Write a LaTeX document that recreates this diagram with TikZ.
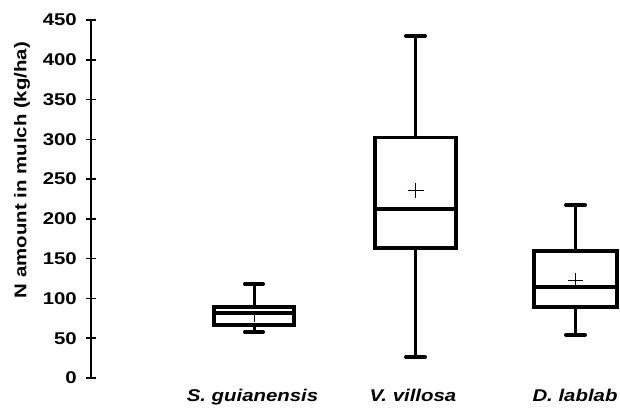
\documentclass[tikz,border=0pt]{standalone}
\usepackage{fontspec}
\setmainfont{Liberation Sans}[FakeStretch=1.2]
\begin{document}
\begin{tikzpicture}[x=1pt,y=-1pt,
  boxline/.style={line width=3.2pt},
  whisk/.style={line width=3pt},
  capline/.style={line width=4pt,line cap=round},
  meanmark/.style={line width=0.9pt},
  axisline/.style={line width=1.6pt},
  ticklab/.style={anchor=east,inner sep=0pt,font=\fontsize{17}{17}\selectfont\bfseries},
  catlab/.style={anchor=base,inner sep=0pt,font=\fontsize{17}{17}\selectfont\bfseries\itshape}]
\useasboundingbox[fill=white] (0,0) rectangle (620,407);
% axis
\coordinate (ax0) at (91,378);
\coordinate (ax1) at (91,20);
\draw[axisline] (ax0) -- (ax1);
\foreach \v in {0,50,...,450}{
  \pgfmathsetmacro{\yy}{378-0.7956*\v}
  \draw[axisline] (86,\yy) -- (96,\yy);
  \node[ticklab] (t\v) at (77,\yy) {\v};
}
\node[rotate=90,inner sep=0pt,font=\fontsize{17}{17}\selectfont\bfseries] (ylab) at (22,170) {N amount in mulch (kg/ha)};
% S. guianensis
\draw[whisk] (254,307) -- (254,284);
\draw[whisk] (254,325) -- (254,332);
\draw[capline] (245,284) -- (263,284);
\draw[capline] (245,332) -- (263,332);
\draw[boxline] (214,307) rectangle (294,325);
\draw[boxline] (214,313) -- (294,313);
\draw[meanmark] (254,312) -- (254,322);
% V. villosa
\draw[whisk] (415.5,137.5) -- (415.5,36);
\draw[whisk] (415.5,248) -- (415.5,357);
\draw[capline] (406,36) -- (425,36);
\draw[capline] (406,357) -- (425,357);
\draw[boxline] (375,137.5) rectangle (456,248);
\draw[boxline] (375,209) -- (456,209);
\draw[meanmark] (407.5,190.5) -- (423.5,190.5) (415.5,183) -- (415.5,198);
% D. lablab
\draw[whisk] (575.5,251) -- (575.5,205);
\draw[whisk] (575.5,307) -- (575.5,335);
\draw[capline] (566,205) -- (585,205);
\draw[capline] (566,335) -- (585,335);
\draw[boxline] (534,251) rectangle (617,307);
\draw[boxline] (534,287) -- (617,287);
\draw[meanmark] (568,280) -- (583,280) (575.5,273) -- (575.5,286);
% category labels
\node[catlab] (c1) at (252.5,401.5) {S. guianensis};
\node[catlab] (c2) at (413,401.5) {V. villosa};
\node[catlab] (c3) at (575,401.5) {D. lablab};
\end{tikzpicture}
\end{document}
